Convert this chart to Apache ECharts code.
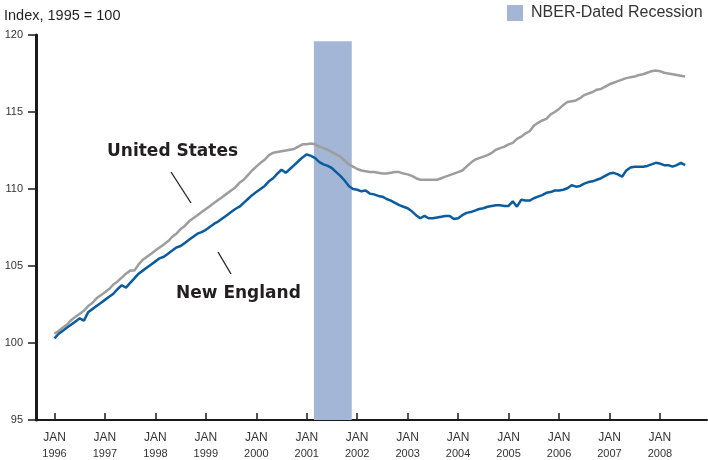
<!DOCTYPE html>
<html><head><meta charset="utf-8">
<script src="https://cdn.jsdelivr.net/npm/echarts@6/dist/echarts.min.js"></script>
<style>html,body{margin:0;padding:0;background:#fff}#c{width:708px;height:460px}</style>
</head><body><div id="c"></div>
<script>
// months since Jan 1996 (index 0) for each value
const yearLabels = ['1996','1997','1998','1999','2000','2001','2002','2003','2004','2005','2006','2007','2008'];
const tickMonths = [0,12,24,36,48,60,72,84,96,108,120,132,144];
const yTicks = [95,100,105,110,115,120];

const unitedStates = [
100.6,100.8,101.0,101.2,101.5,101.7,101.9,102.1,102.4,102.6,102.9,103.1,
103.3,103.5,103.8,104.0,104.25,104.5,104.7,104.7,105.1,105.4,105.6,105.8,
106.0,106.2,106.4,106.6,106.9,107.1,107.4,107.6,107.9,108.1,108.3,108.5,
108.7,108.9,109.1,109.3,109.5,109.7,109.9,110.1,110.4,110.6,110.9,111.2,
111.45,111.7,111.9,112.2,112.35,112.4,112.45,112.5,112.55,112.6,112.75,112.9,
112.9,112.95,112.9,112.75,112.65,112.55,112.4,112.25,112.1,111.85,111.6,111.45,
111.3,111.2,111.15,111.1,111.1,111.05,111.0,111.0,111.05,111.1,111.1,111.0,
110.95,110.85,110.7,110.6,110.6,110.6,110.6,110.6,110.7,110.8,110.9,111.0,
111.1,111.2,111.45,111.7,111.9,112.0,112.1,112.2,112.35,112.55,112.65,112.75,
112.9,113.0,113.25,113.4,113.6,113.75,114.1,114.3,114.45,114.55,114.85,115.0,
115.2,115.45,115.65,115.7,115.75,115.9,116.1,116.2,116.3,116.45,116.5,116.65,
116.8,116.9,117.0,117.1,117.2,117.25,117.3,117.4,117.45,117.55,117.65,117.7,
117.65,117.55,117.5,117.45,117.4,117.35,117.3
];
const newEngland = [
100.3,100.6,100.8,101.0,101.2,101.4,101.6,101.45,102.0,102.2,102.4,102.6,
102.8,103.0,103.2,103.5,103.75,103.6,103.9,104.2,104.5,104.7,104.9,105.1,
105.3,105.5,105.6,105.8,106.0,106.2,106.3,106.5,106.7,106.9,107.1,107.2,
107.35,107.55,107.75,107.9,108.1,108.3,108.5,108.7,108.85,109.1,109.35,109.6,
109.8,110.0,110.2,110.5,110.7,111.0,111.25,111.05,111.3,111.55,111.8,112.05,
112.25,112.15,112.0,111.75,111.6,111.5,111.35,111.1,110.85,110.55,110.2,110.0,
109.95,109.85,109.9,109.7,109.65,109.55,109.5,109.35,109.25,109.1,108.95,108.85,
108.75,108.55,108.3,108.1,108.25,108.1,108.1,108.15,108.2,108.25,108.25,108.05,
108.1,108.3,108.45,108.5,108.6,108.7,108.75,108.85,108.9,108.95,108.95,108.9,
108.9,109.2,108.85,109.3,109.25,109.25,109.4,109.5,109.6,109.75,109.8,109.9,
109.9,109.95,110.05,110.25,110.15,110.2,110.35,110.45,110.5,110.6,110.7,110.85,
111.0,111.05,110.95,110.8,111.2,111.4,111.45,111.45,111.45,111.5,111.6,111.7,
111.65,111.55,111.55,111.45,111.55,111.7,111.55
];
// NBER recession: Mar 2001 - Nov 2001 (months since Jan 1996)
const recession = [61.7, 70.7];
const recessionTop = 119.6;

const chart = echarts.init(document.getElementById('c'), null, {renderer:'canvas'});
const pairs = arr => arr.map((v,i)=>[i,v]);
const yearByMonth = {};
tickMonths.forEach((m,i)=>yearByMonth[m]=yearLabels[i]);

chart.setOption({
  animation:false,
  grid:{left:36,right:1,top:35,bottom:40,containLabel:false},
  xAxis:{
    type:'value', min:-4.4, max:155.2,
    splitLine:{show:false},
    axisLine:{show:true,onZero:false,lineStyle:{color:'#1a1a1a',width:2}},
    axisTick:{show:true,inside:true,length:7,lineStyle:{color:'#1a1a1a',width:1.5},customValues:tickMonths},
    axisLabel:{
      customValues:tickMonths, margin:10,
      formatter:v=>'{a|JAN}\n{b|'+yearByMonth[v]+'}',
      rich:{
        a:{fontFamily:'Liberation Sans',fontSize:12,color:'#333',lineHeight:16,fontWeight:'normal'},
        b:{fontFamily:'Liberation Sans',fontSize:11,color:'#333',lineHeight:16}
      }
    }
  },
  yAxis:{
    type:'value', min:95, max:120, interval:5,
    splitLine:{show:false},
    axisLine:{show:true,onZero:false,lineStyle:{color:'#1a1a1a',width:3}},
    axisTick:{show:true,inside:false,length:8,lineStyle:{color:'#1a1a1a',width:1.5}},
    axisLabel:{margin:13,fontFamily:'Liberation Sans',fontSize:11,color:'#333'}
  },
  series:[
    {type:'line',data:[],z:1,silent:true,
     markArea:{silent:true,itemStyle:{color:'#a3b6d6',opacity:1},
       data:[[{xAxis:recession[0],yAxis:95},{xAxis:recession[1],yAxis:recessionTop}]]}},
    {name:'United States',type:'line',data:pairs(unitedStates),showSymbol:false,z:3,
     lineStyle:{color:'#9d9d9d',width:2.5},itemStyle:{color:'#9d9d9d'}},
    {name:'New England',type:'line',data:pairs(newEngland),showSymbol:false,z:4,
     lineStyle:{color:'#0b5c9e',width:2.5},itemStyle:{color:'#0b5c9e'}}
  ],
  graphic:[
    {type:'text',left:4,top:8,style:{text:'Index, 1995 = 100',fontFamily:'Liberation Sans',fontSize:14.5,fill:'#231f20'}},
    {type:'rect',shape:{x:507,y:5,width:16,height:16},style:{fill:'#a3b6d6'}},
    {type:'text',left:531,top:5,style:{text:'NBER-Dated Recession',fontFamily:'Liberation Sans',fontSize:16,fill:'#333'}},
    {type:'text',left:107,top:143,style:{text:'United States',fontFamily:'DejaVu Sans',fontSize:17,fontWeight:'bold',fill:'#231f20'}},
    {type:'line',shape:{x1:171,y1:172,x2:191,y2:203},style:{stroke:'#231f20',lineWidth:1.3}},
    {type:'text',left:176,top:285,style:{text:'New England',fontFamily:'DejaVu Sans',fontSize:17,fontWeight:'bold',fill:'#231f20'}},
    {type:'line',shape:{x1:218,y1:252,x2:231,y2:274},style:{stroke:'#231f20',lineWidth:1.3}}
  ]
});
</script></body></html>
